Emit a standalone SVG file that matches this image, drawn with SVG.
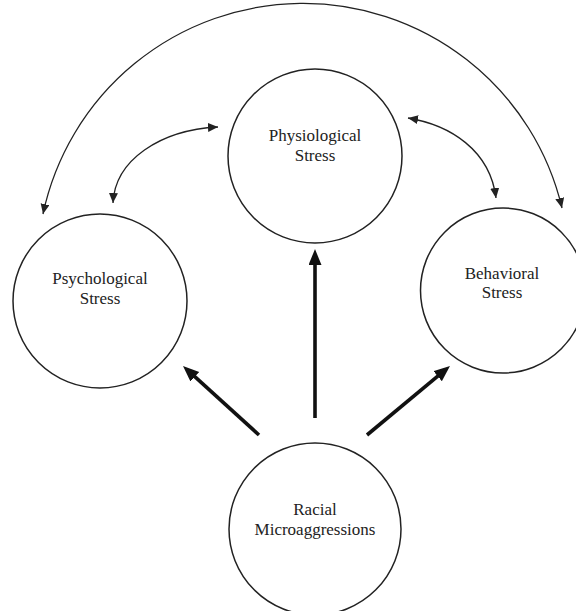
<svg xmlns="http://www.w3.org/2000/svg" width="576" height="611" viewBox="0 0 576 611">
<style>
.node circle{fill:#fff;stroke:#222;stroke-width:1.5}
.node text{font-family:"Liberation Serif","Times New Roman",serif;font-size:17px;fill:#222;text-anchor:middle}
.thin{fill:none;stroke:#222;stroke-width:1.3}
.thick{fill:none;stroke:#111;stroke-width:3.6}
</style>
<defs>
<marker id="ah" markerUnits="userSpaceOnUse" markerWidth="11" markerHeight="10" refX="10" refY="4.5" orient="auto-start-reverse">
<path d="M0,0 L10,4.5 L0,9 z" fill="#222"/>
</marker>
<marker id="ahb" markerUnits="userSpaceOnUse" markerWidth="17" markerHeight="14" refX="6" refY="6.5" orient="auto">
<path d="M0,0 L16,6.5 L0,13 z" fill="#111"/>
</marker>
</defs>
<rect width="576" height="611" fill="#fff"/>
<g id="node-physiological" class="node">
<circle cx="315" cy="156" r="87"/>
<text x="315" y="141">Physiological</text>
<text x="315" y="161">Stress</text>
</g>
<g id="node-psychological" class="node">
<circle cx="100" cy="301" r="87"/>
<text x="100" y="284">Psychological</text>
<text x="100" y="304">Stress</text>
</g>
<g id="node-behavioral" class="node">
<circle cx="503" cy="290.5" r="82.5"/>
<text x="502" y="279">Behavioral</text>
<text x="502" y="298">Stress</text>
</g>
<g id="node-racial" class="node">
<circle cx="315" cy="529" r="86"/>
<text x="315" y="515">Racial</text>
<text x="315" y="535">Microaggressions</text>
</g>
<g id="connectors">
<path class="thin" d="M43 214 A266 266 0 0 1 562 208" marker-start="url(#ah)" marker-end="url(#ah)"/>
<path class="thin" d="M113 203 C115 160 160 130 218 127" marker-start="url(#ah)" marker-end="url(#ah)"/>
<path class="thin" d="M408 118 C450 125 490 150 496 198" marker-start="url(#ah)" marker-end="url(#ah)"/>
<line class="thick" x1="315" y1="418" x2="315" y2="259" marker-end="url(#ahb)"/>
<line class="thick" x1="259" y1="435" x2="190.4" y2="372.7" marker-end="url(#ahb)"/>
<line class="thick" x1="367" y1="435" x2="442.3" y2="372.4" marker-end="url(#ahb)"/>
</g>
</svg>
